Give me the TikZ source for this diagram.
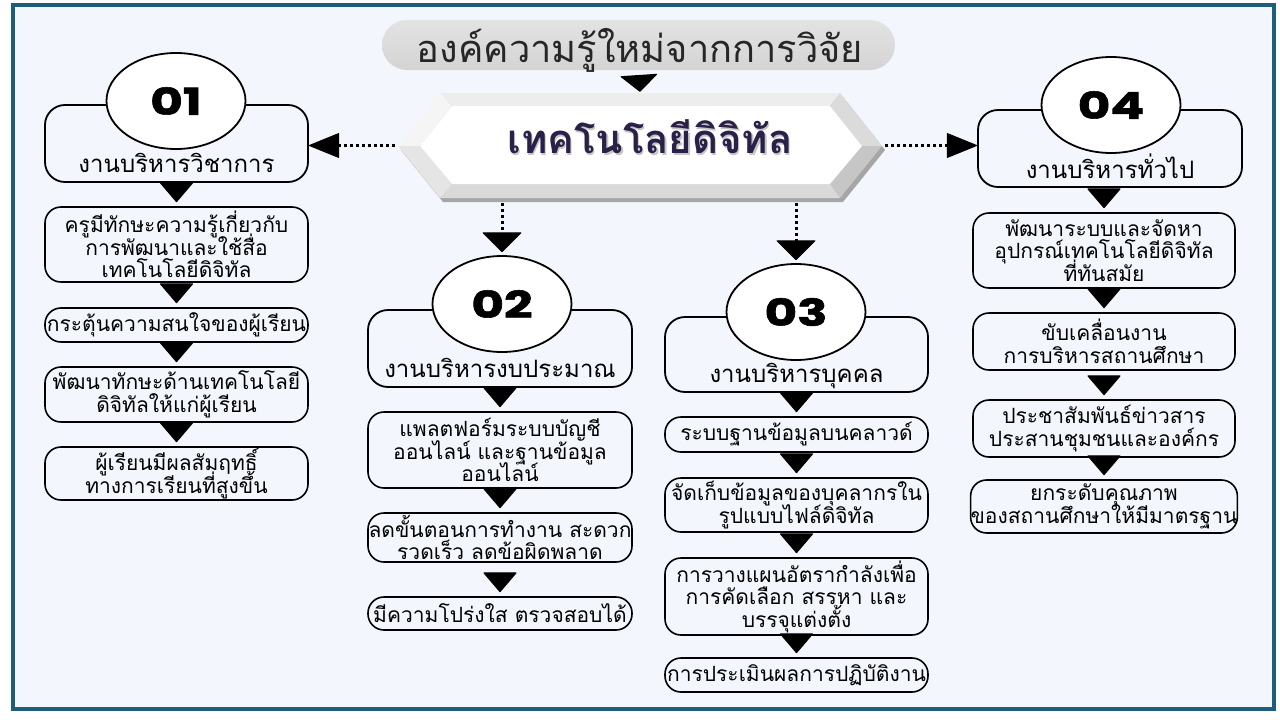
\documentclass[tikz,border=0pt]{standalone}
\usepackage{fontspec}
\newfontfamily\thai[Script=Thai]{Loma}
\newfontfamily\numfont[BoldFeatures={FakeBold=1.5}]{Poppins}
\usetikzlibrary{shapes.geometric,arrows.meta,calc}
\definecolor{framec}{RGB}{30,94,125}
\definecolor{bgc}{RGB}{243,247,253}
\definecolor{hexfont}{RGB}{43,33,72}
\definecolor{titletext}{RGB}{38,38,38}
\newcommand{\tightlines}{\lineskiplimit=-50pt\relax\lineskip=0pt\relax}
\tikzset{
  box/.style={draw=black, line width=1.6pt, rounded corners=16pt, fill=bgc, align=center,
    text=black, font=\thai\fontsize{21}{22.5}\selectfont\tightlines, inner sep=0pt},
  hdr/.style={draw=black, line width=1.8pt, rounded corners=20pt, fill=bgc, inner sep=0pt},
  hdrtxt/.style={font=\thai\fontsize{24}{26}\selectfont, inner sep=0pt, anchor=base},
  numc/.style={ellipse, draw=black, line width=1.8pt, fill=white, minimum width=139pt,
    minimum height=96pt, inner sep=0pt, font=\numfont\bfseries\fontsize{37}{37}\selectfont},
  tri/.style={draw=bgc, line width=0.5pt, shorten >=4pt,
    -{Triangle[width=34pt,length=20pt,round,color=black,fill=black,line width=1pt]}},
  dotarr/.style={draw=black, line width=3pt, dash pattern=on 3pt off 3pt,
    -{Triangle[width=25pt,length=31pt,round,line width=1pt]}},
  dotdown/.style={draw=black, line width=3pt, dash pattern=on 3pt off 3pt,
    -{Triangle[width=40pt,length=20pt,round,line width=1pt]}},
}
\newcommand{\num}[1]{\scalebox{1.35}[1]{#1}}
\begin{document}
\begin{tikzpicture}[x=1pt,y=-1pt]
\useasboundingbox (0,0) rectangle (1280,720);
\fill[white] (0,0) rectangle (1280,720);
\draw[framec, line width=4pt, fill=bgc] (13,5) rectangle (1274,709);

% title pill
\node[rounded corners=25pt, minimum width=513pt, minimum height=50pt, inner sep=0pt,
  top color=gray!22, bottom color=gray!34, draw=none] (title) at (638.5,45) {};
\node[font=\thai\fontsize{38}{40}\selectfont, text=titletext, anchor=base, inner sep=0pt] (titlet) at (640,62) {องค์ความรู้ใหม่จากการวิจัย};

% hexagon
\node[minimum width=484pt, minimum height=105pt, inner sep=0pt] (hex) at (640,145.5) {};
\fill[gray!70] (401,150) -- (443,97) -- (843,97) -- (885,150) -- (843,202) -- (443,202) -- cycle;
\fill[gray!14] (440,93) -- (840,93) -- (830,106) -- (452,106) -- cycle;
\fill[gray!28] (840,93) -- (882,146) -- (862,146) -- (830,106) -- cycle;
\fill[gray!45] (882,146) -- (840,198) -- (830,184) -- (862,146) -- cycle;
\fill[gray!30] (840,198) -- (440,198) -- (452,184) -- (830,184) -- cycle;
\fill[gray!20] (440,198) -- (398,146) -- (420,146) -- (452,184) -- cycle;
\fill[gray!8] (398,146) -- (440,93) -- (452,106) -- (420,146) -- cycle;
\fill[white] (420,146) -- (452,106) -- (830,106) -- (862,146) -- (830,184) -- (452,184) -- cycle;
\node[font=\thai\bfseries\fontsize{40}{42}\selectfont, text=gray!45, anchor=base, inner sep=0pt] at (651.5,155) {เทคโนโลยีดิจิทัล};
\node[font=\thai\bfseries\fontsize{40}{42}\selectfont, text=hexfont, anchor=base, inner sep=0pt] (hext) at (650,153) {เทคโนโลยีดิจิทัล};

% headers
\node[hdr, minimum width=263pt, minimum height=77pt] (h1) at (176.5,143.5) {};
\node[hdr, minimum width=264pt, minimum height=77pt] (h2) at (500,348.5) {};
\node[hdr, minimum width=263pt, minimum height=75pt] (h3) at (796.5,354.5) {};
\node[hdr, minimum width=264pt, minimum height=77pt] (h4) at (1110,148.5) {};
\node[hdrtxt] (h1t) at (176.5,172) {งานบริหารวิชาการ};
\node[hdrtxt] (h2t) at (500,377) {งานบริหารงบประมาณ};
\node[hdrtxt] (h3t) at (796.5,382) {งานบริหารบุคคล};
\node[hdrtxt] (h4t) at (1110,178) {งานบริหารทั่วไป};
\node[numc] (c1) at (176,101) {\num{01}};
\node[numc] (c2) at (502,304) {\num{02}};
\node[numc] (c3) at (796,312) {\num{03}};
\node[numc] (c4) at (1111,105) {\num{04}};

% column 1
\node[box, minimum width=263pt, minimum height=75pt] (b11) at (176.5,244.5) {ครูมีทักษะความรู้เกี่ยวกับ\\การพัฒนาและใช้สื่อ\\เทคโนโลยีดิจิทัล};
\node[box, minimum width=263pt, minimum height=34pt] (b12) at (176.5,325) {กระตุ้นความสนใจของผู้เรียน};
\node[box, minimum width=263pt, minimum height=55pt] (b13) at (176.5,394.5) {พัฒนาทักษะด้านเทคโนโลยี\\ดิจิทัลให้แก่ผู้เรียน};
\node[box, minimum width=263pt, minimum height=53pt] (b14) at (176.5,473.5) {ผู้เรียนมีผลสัมฤทธิ์\\ทางการเรียนที่สูงขึ้น};
% column 2
\node[box, minimum width=264pt, minimum height=76pt] (b21) at (500,450) {แพลตฟอร์มระบบบัญชี\\ออนไลน์ และฐานข้อมูล\\ออนไลน์};
\node[box, minimum width=264pt, minimum height=49pt] (b22) at (500,537.5) {ลดขั้นตอนการทำงาน สะดวก\\รวดเร็ว ลดข้อผิดพลาด};
\node[box, minimum width=264pt, minimum height=33pt] (b23) at (500,613.5) {มีความโปร่งใส ตรวจสอบได้};
% column 3
\node[box, minimum width=263pt, minimum height=35pt] (b31) at (796.5,434.5) {ระบบฐานข้อมูลบนคลาวด์};
\node[box, minimum width=263pt, minimum height=54pt] (b32) at (796.5,505) {จัดเก็บข้อมูลของบุคลากรใน\\รูปแบบไฟล์ดิจิทัล};
\node[box, minimum width=263pt, minimum height=77pt] (b33) at (796.5,596.5) {การวางแผนอัตรากำลังเพื่อ\\การคัดเลือก สรรหา และ\\บรรจุแต่งตั้ง};
\node[box, minimum width=263pt, minimum height=34pt] (b34) at (796.5,675) {การประเมินผลการปฏิบัติงาน};
% column 4
\node[box, minimum width=262pt, minimum height=75pt] (b41) at (1104,250.5) {พัฒนาระบบและจัดหา\\อุปกรณ์เทคโนโลยีดิจิทัล\\ที่ทันสมัย};
\node[box, minimum width=262pt, minimum height=57pt] (b42) at (1104,341.5) {ขับเคลื่อนงาน\\การบริหารสถานศึกษา};
\node[box, minimum width=262pt, minimum height=57pt] (b43) at (1104,428.5) {ประชาสัมพันธ์ข่าวสาร\\ประสานชุมชนและองค์กร};
\node[box, minimum width=262pt, minimum height=53pt] (b44) at (1104,506.5) {ยกระดับคุณภาพ\\ของสถานศึกษาให้มีมาตรฐาน};

% connectors
\draw[draw=bgc, line width=0.5pt, shorten >=1pt,
  -{Triangle[width=38pt,length=17pt,round,color=black,fill=black,line width=1pt]}] (title.south) -- (hex.north);
\draw[dotarr, shorten <=3pt] (hex.west) -- (hex.west -| h1.east);
\draw[dotarr, shorten <=3pt] (hex.east) -- (hex.east -| h4.west);
\draw[dotdown, shorten <=5pt, shorten >=3pt] (hex.south -| c2.north) -- (c2.north);
\draw[dotdown, shorten <=5pt, shorten >=3pt] (hex.south -| c3.north) -- (c3.north);

\foreach \u/\l in {h1/b11,b11/b12,b12/b13,b13/b14,h2/b21,b21/b22,b22/b23,h3/b31,b31/b32,b32/b33,b33/b34,h4/b41,b41/b42,b42/b43,b43/b44}
  \draw[tri] (\l.north |- \u.south) -- (\l.north);
\end{tikzpicture}
\end{document}
